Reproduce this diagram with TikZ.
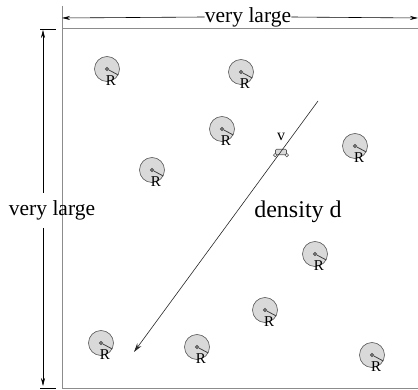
\documentclass[tikz,border=0pt]{standalone}
\usepackage{fontspec}
\setmainfont{Liberation Serif}
\usetikzlibrary{arrows.meta}
\begin{document}
\begin{tikzpicture}[x=1pt,y=-1pt,
  border/.style={draw=black!45,line width=1pt},
  dim/.style={draw=black,line width=0.6pt},
  site/.style={circle,draw=black!65,fill=black!15,line width=0.6pt,minimum size=25pt,inner sep=0pt},
  rlabel/.style={font=\fontsize{15}{15}\selectfont,inner sep=0pt},
  ctr/.style={circle,fill=black!55,draw=black!70,minimum size=3.8pt,inner sep=0pt}]
\useasboundingbox (0,0) rectangle (418,390);
% square
\coordinate (tl) at (62,29); \coordinate (tr) at (418,29);
\coordinate (bl) at (62,388); \coordinate (br) at (418,388);
\coordinate (ltop) at (62,6);
\draw[border] (ltop) -- (bl);
\draw[border] (tl) -- (tr);
\draw[border] (bl) -- (br);
\coordinate (k1) at (40,29); \coordinate (k2) at (56,29);
\coordinate (k3) at (40,388); \coordinate (k4) at (56,388);
\draw[dim] (k1) -- (k2);
\draw[dim] (k3) -- (k4);
% top dimension
\node[font=\fontsize{21.5}{21.5}\selectfont,inner sep=0pt] (vl1) at (248,17) {very large};
\coordinate (ta) at (62,18); \coordinate (tb) at (418,18);
\draw[dim,-{Stealth[length=8pt,width=4pt]}] (vl1.west) -- (ta);
\draw[dim,-{Stealth[length=8pt,width=4pt]}] (vl1.east) -- (tb);
% left dimension
\node[font=\fontsize{21.5}{21.5}\selectfont,inner sep=0pt] (vl2) at (52,210) {very large};
\coordinate (la) at (43,30); \coordinate (lb) at (43,386);
\coordinate (la0) at (43,193); \coordinate (lb0) at (43,228);
\draw[dim,-{Stealth[length=8pt,width=4pt]}] (la0) -- (la);
\draw[dim,-{Stealth[length=8pt,width=4pt]}] (lb0) -- (lb);
% sites
\foreach \n/\x/\y in {a/107/69,b/241/72,c/222/129,d/152/170,e/355/146,f/315/254,g/265/310,h/101/343,i/197/347,j/372/355}{
  \node[site] (\n) at (\x,\y) {};
  \node[ctr] (\n c) at (\x,\y) {};
  \draw[black!75,line width=0.8pt] (\n c) -- (\n.-28);
  \node[rlabel] (\n r) at (\x+4,\y+12) {R};
}
% vehicle path
\coordinate (p1) at (318,101);
\coordinate (p2) at (134,352);
% vehicle
\node[draw=black!65,fill=black!15,rounded corners=1pt,minimum width=11pt,minimum height=5.5pt,inner sep=0pt,line width=0.6pt] (car) at (281,152) {};
\draw[black!65,line width=0.6pt] (car.south west) circle (1.8pt);
\draw[black!65,line width=0.6pt] (car.south east) circle (1.8pt);
\draw[black!85,line width=0.6pt,-{Stealth[length=9pt,width=5pt]}] (p1) -- (p2);
\node[font=\fontsize{16}{16}\selectfont,inner sep=0pt] (v) at (281,137) {v};
% density
\node[font=\fontsize{24}{24}\selectfont,inner sep=0pt] (den) at (298,212) {density d};
\end{tikzpicture}
\end{document}
